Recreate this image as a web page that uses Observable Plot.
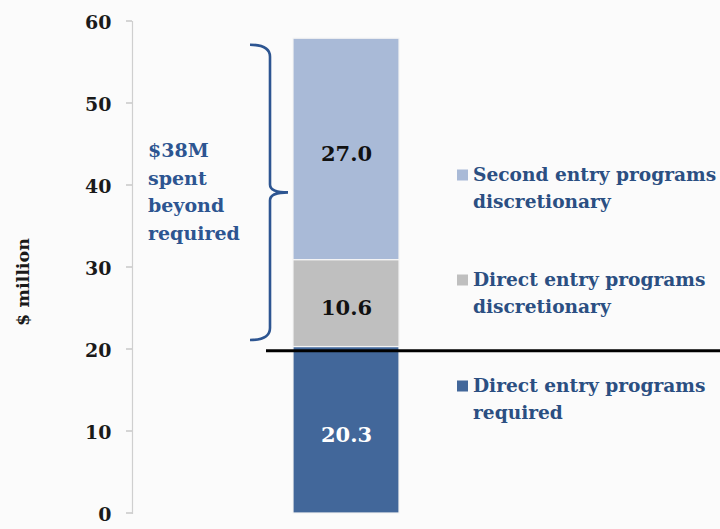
<!DOCTYPE html>
<html>
<head>
<meta charset="utf-8">
<script src="https://cdn.jsdelivr.net/npm/d3@7"></script>
<script src="https://cdn.jsdelivr.net/npm/@observablehq/plot@0.6"></script>
<style>
  html, body { margin: 0; padding: 0; background: #fbfbfb; }
  #chart { width: 720px; height: 529px; position: relative; }
</style>
</head>
<body>
<div id="chart"></div>
<script>
// ---- data ----
const categories = ["Direct entry programs required", "Direct entry programs discretionary", "Second entry programs discretionary"];
const legendLines = [["Direct entry programs", "required"], ["Direct entry programs", "discretionary"], ["Second entry programs", "discretionary"]];
const values = [20.3, 10.6, 27.0];
const colors = ["#42679a", "#bfbfbf", "#a9bad7"];
const labelColors = ["#ffffff", "#111111", "#111111"];
const yTicks = [0, 10, 20, 30, 40, 50, 60];
const yLabel = "$ million";
const requiredLevel = [19.8];
const braceRange = [21.1, 57.1];
const annotationLines = ["$38M", "spent", "beyond", "required"];
const barName = "Spending";

// ---- build table ----
const tops = d3.cumsum(values);
const data = categories.map((c, i) => ({
  bar: barName,
  category: c,
  value: values[i],
  mid: tops[i] - values[i] / 2,
  label: values[i].toFixed(1),
  labelColor: labelColors[i]
}));

const FONT = "DejaVu Serif";
const blueText = "#2b4f82";

const plot = Plot.plot({
  width: 720,
  height: 529,
  marginLeft: 132,
  marginRight: 0,
  marginTop: 21,
  marginBottom: 16,
  style: { fontFamily: FONT, fontWeight: "bold", background: "#fbfbfb", overflow: "visible" },
  x: { domain: [barName], range: [293, 399], padding: 0, axis: null },
  y: { domain: [0, 60], axis: null },
  color: { domain: categories, range: colors },
  marks: [
    Plot.frame({ anchor: "left", stroke: "#cfcfcf", strokeWidth: 1.2 }),
    Plot.text(yTicks, { y: d => d, frameAnchor: "left", dx: -21, dy: 1, textAnchor: "end", fontSize: 19, fill: "#1a1a1a", fontWeight: "bold", text: d => String(d) }),
    Plot.barY(data, Plot.stackY({ x: "bar", y: "value", fill: "category", stroke: "#f4f4f4", strokeWidth: 1.2 })),
    Plot.text(data, { x: "bar", y: "mid", text: "label", fill: "labelColor", fontSize: 21, dy: 5, fontWeight: "bold" })
  ]
});

document.getElementById("chart").appendChild(plot);

// ---- annotations drawn with the plot's own y scale ----
const svg = d3.select(plot);
const y = plot.scale("y");
const Y = v => y.apply(v);

// tick marks (short, left of the axis)
svg.selectAll(".ytick").data(yTicks).join("line")
  .attr("x1", 126).attr("x2", 132)
  .attr("y1", d => Y(d)).attr("y2", d => Y(d))
  .attr("stroke", "#bdbdbd").attr("stroke-width", 1.2);

// y label
svg.append("text")
  .attr("transform", "translate(29,282) rotate(-90)")
  .attr("text-anchor", "middle")
  .attr("font-family", FONT).attr("font-weight", "bold").attr("font-size", 17.5).attr("fill", "#1a1a1a")
  .text(yLabel);

// required line
svg.append("line")
  .attr("x1", 266).attr("x2", 720)
  .attr("y1", Y(requiredLevel[0])).attr("y2", Y(requiredLevel[0]))
  .attr("stroke", "#000").attr("stroke-width", 3);

// curly brace
const yb = Y(braceRange[0]), yt = Y(braceRange[1]), ym = (yb + yt) / 2;
const xl = 250, xv = 270, xt = 288;
const path = `M${xl},${yt} Q${xv},${yt} ${xv},${yt + 12} L${xv},${ym - 8} Q${xv},${ym} ${xt},${ym} Q${xv},${ym} ${xv},${ym + 8} L${xv},${yb - 12} Q${xv},${yb} ${xl},${yb}`;
svg.append("path").attr("d", path).attr("fill", "none").attr("stroke", "#2d5591").attr("stroke-width", 2.6);

// annotation text
const ann = svg.append("text").attr("x", 148).attr("y", 157).attr("text-anchor", "start")
  .attr("font-family", FONT).attr("font-weight", "bold").attr("font-size", 19).attr("fill", "#2d5591");
annotationLines.forEach((t, i) => ann.append("tspan").attr("x", 148).attr("dy", i === 0 ? 0 : 27.7).text(t));

// legend (top to bottom: reverse stack order)
const legendY = [175, 280, 386];
[2, 1, 0].forEach((ci, k) => {
  const cy = legendY[k];
  svg.append("rect").attr("x", 457).attr("y", cy - 5.5).attr("width", 11).attr("height", 11).attr("fill", colors[ci]);
  const t = svg.append("text").attr("x", 473).attr("y", cy + 6).attr("text-anchor", "start")
    .attr("font-family", FONT).attr("font-weight", "bold").attr("font-size", 18.6).attr("fill", blueText);
  legendLines[ci].forEach((line, j) => t.append("tspan").attr("x", 473).attr("dy", j === 0 ? 0 : 26.5).text(line));
});
</script>
</body>
</html>
